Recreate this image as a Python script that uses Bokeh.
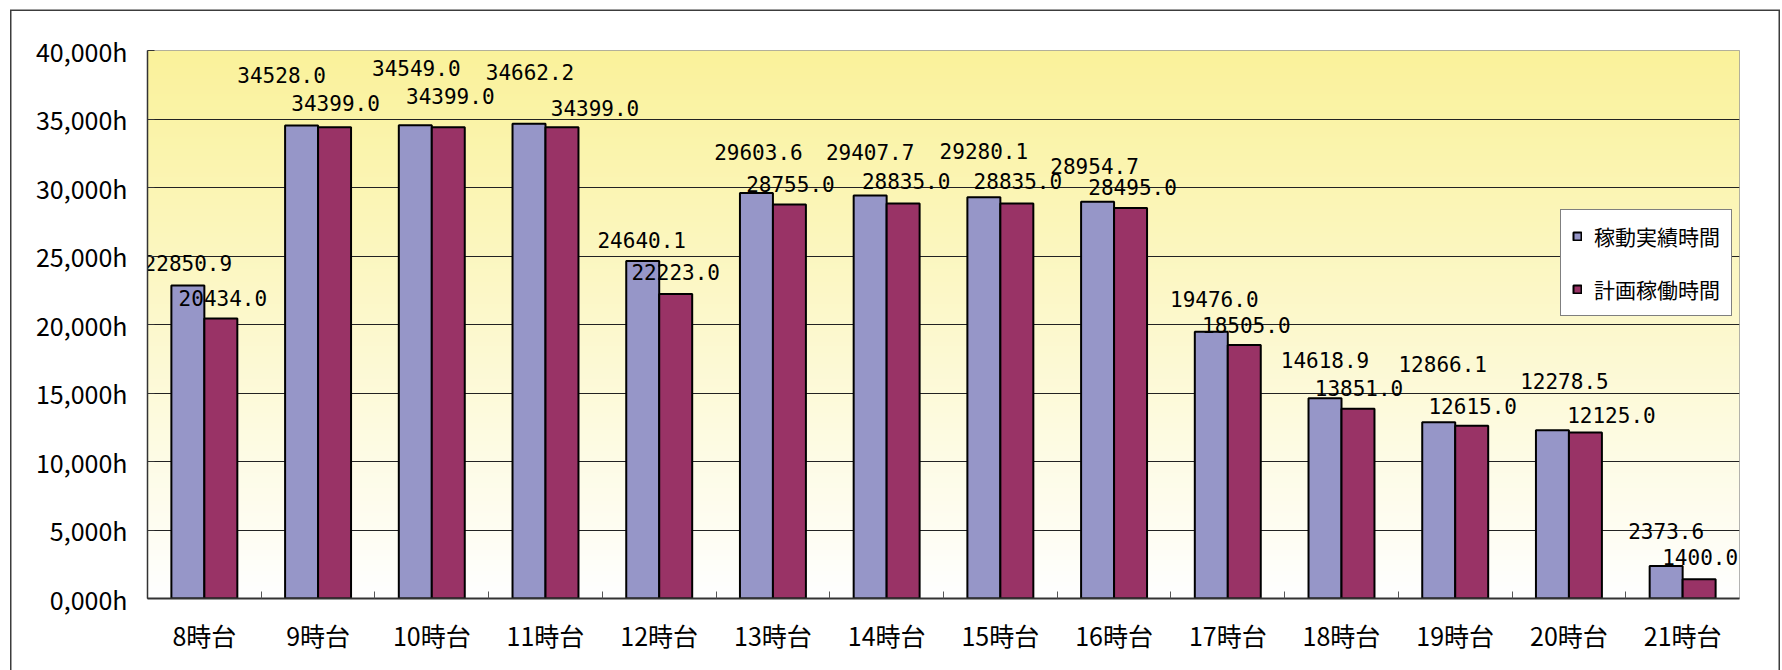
import numpy as np
from bokeh.plotting import figure
from bokeh.models import Range1d, FixedTicker, Legend, LegendItem, ColumnDataSource
from bokeh.core.properties import value
from bokeh.embed import file_html
from bokeh.resources import INLINE

# ---------------- data ----------------
categories = ["8時台", "9時台", "10時台", "11時台", "12時台", "13時台", "14時台",
              "15時台", "16時台", "17時台", "18時台", "19時台", "20時台", "21時台"]
actual_hours = [22850.9, 34528.0, 34549.0, 34662.2, 24640.1, 29603.6, 29407.7,
                29280.1, 28954.7, 19476.0, 14618.9, 12866.1, 12278.5, 2373.6]
planned_hours = [20434.0, 34399.0, 34399.0, 34399.0, 22223.0, 28755.0, 28835.0,
                 28835.0, 28495.0, 18505.0, 13851.0, 12615.0, 12125.0, 1400.0]
series_names = ["稼動実績時間", "計画稼働時間"]
y_ticks = [0, 5000, 10000, 15000, 20000, 25000, 30000, 35000, 40000]
y_tick_labels = ["0,000h", "5,000h", "10,000h", "15,000h", "20,000h",
                 "25,000h", "30,000h", "35,000h", "40,000h"]

# label placement (screen pixel offsets, layout only)
actual_label_dx = [0, -20, 1, 1, -1, 2, 0, 0, -3, 3, 0, 4, 12, 0]
actual_label_dy = [-22, -50, -57, -52, -21, -41, -44, -46, -36, -33, -38, -58, -49, -35]
planned_label_dx = [2, 1, 2, 33, 0, 1, 3, 1, 2, 2, 1, 1, 26, 1]
planned_label_dy = [-21, -24, -31, -19, -22, -21, -22, -22, -21, -20, -21, -20, -17, -22]

# ---------------- styles ----------------
BLUE = "#9696C8"
RED = "#993366"
BAR_W = 0.29
n = len(categories)
idx = np.arange(n)
centers = idx + 0.5

p = figure(width=1782, height=670, output_backend="svg", toolbar_location=None,
           x_range=Range1d(0, n), y_range=Range1d(0, 40000))
# outer chart border (left, top, right) painted behind a transparent canvas
p.styles = {"box-shadow": ("inset 10px 0 0 0 #ffffff, inset 0 9.5px 0 0 #ffffff, "
                           "inset -2px 0 0 0 #ffffff, "
                           "inset 11.5px 0 0 0 #3c3c3c, inset 0 11px 0 0 #3c3c3c, "
                           "inset -3.5px 0 0 0 #3c3c3c")}
p.min_border_left = 147
p.min_border_right = 43
p.min_border_top = 50
p.min_border_bottom = 72
p.background_fill_color = "white"
p.border_fill_color = None
p.outline_line_color = "#9a9a9a"
p.outline_line_width = 1

# gradient background (yellow at top -> white at bottom)
rows = 256
img = np.empty((rows, 1), dtype=np.uint32)
view = img.view(dtype=np.uint8).reshape((rows, 1, 4))
t = np.linspace(0, 1, rows)
top = np.array([250, 242, 155])
bot = np.array([255, 255, 255])
for k in range(3):
    view[:, 0, k] = (bot[k] + (top[k] - bot[k]) * t).astype(np.uint8)
view[:, 0, 3] = 255
p.image_rgba(image=[img], x=0, y=0, dw=n, dh=40000, level="image")

src = ColumnDataSource(dict(
    xa=centers - BAR_W / 2, xp=centers + BAR_W / 2,
    actual=actual_hours, planned=planned_hours,
    la=[f"{v:.1f}" for v in actual_hours], lp=[f"{v:.1f}" for v in planned_hours],
    adx=actual_label_dx, ady=actual_label_dy, pdx=planned_label_dx, pdy=planned_label_dy,
))

ra = p.vbar(x="xa", top="actual", width=BAR_W, source=src, fill_color=BLUE,
            line_color="black", line_width=2)
rp = p.vbar(x="xp", top="planned", width=BAR_W, source=src, fill_color=RED,
            line_color="black", line_width=2)

for xc, yc, tc, dx, dy in (("xa", "actual", "la", "adx", "ady"),
                           ("xp", "planned", "lp", "pdx", "pdy")):
    p.text(x=xc, y=yc, text=tc, x_offset=dx, y_offset=dy, source=src,
           text_font=value("DejaVu Sans Mono"), text_font_size=value("21px"),
           text_align="center", text_baseline="middle", text_color="black")

# grid
p.xgrid.grid_line_color = None
p.ygrid.ticker = FixedTicker(ticks=y_ticks)
p.ygrid.grid_line_color = "#222222"
p.ygrid.grid_line_width = 1

# y axis
yax = p.yaxis[0]
yax.ticker = FixedTicker(ticks=y_ticks)
yax.major_label_overrides = {v: s for v, s in zip(y_ticks, y_tick_labels)}
yax.major_label_text_font = "Noto Sans CJK JP"
yax.major_label_text_font_size = "25px"
yax.major_label_text_color = "black"
yax.major_label_standoff = 20
yax.major_tick_in = 7
yax.major_tick_out = 0
yax.major_tick_line_color = "#333333"
yax.minor_tick_line_color = None
yax.axis_line_color = "#333333"
yax.axis_line_width = 1.5

# x axis
xax = p.xaxis[0]
xax.ticker = FixedTicker(ticks=list(centers), minor_ticks=list(range(1, n)))
xax.major_label_overrides = {float(c): s for c, s in zip(centers, categories)}
xax.major_label_text_font = "Noto Sans CJK JP"
xax.major_label_text_font_size = "25px"
xax.major_label_text_color = "black"
xax.major_label_standoff = 12
xax.major_tick_line_color = None
xax.minor_tick_in = 7
xax.minor_tick_out = 0
xax.minor_tick_line_color = "#555555"
xax.axis_line_color = "#333333"
xax.axis_line_width = 2

legend = Legend(items=[LegendItem(label=series_names[0], renderers=[ra]),
                       LegendItem(label=series_names[1], renderers=[rp])],
                location=(1413, 282), orientation="vertical")
legend.label_text_font = "Noto Sans CJK JP"
legend.label_text_font_size = "21px"
legend.label_text_color = "black"
legend.label_height = 30
legend.label_standoff = 12
legend.glyph_width = 10
legend.glyph_height = 10
legend.spacing = 23
legend.padding = 11
legend.margin = 0
legend.border_line_color = "black"
legend.border_line_width = 1
legend.background_fill_color = "white"
legend.background_fill_alpha = 1
p.add_layout(legend)

open("out.html", "w").write(file_html(p, INLINE))
